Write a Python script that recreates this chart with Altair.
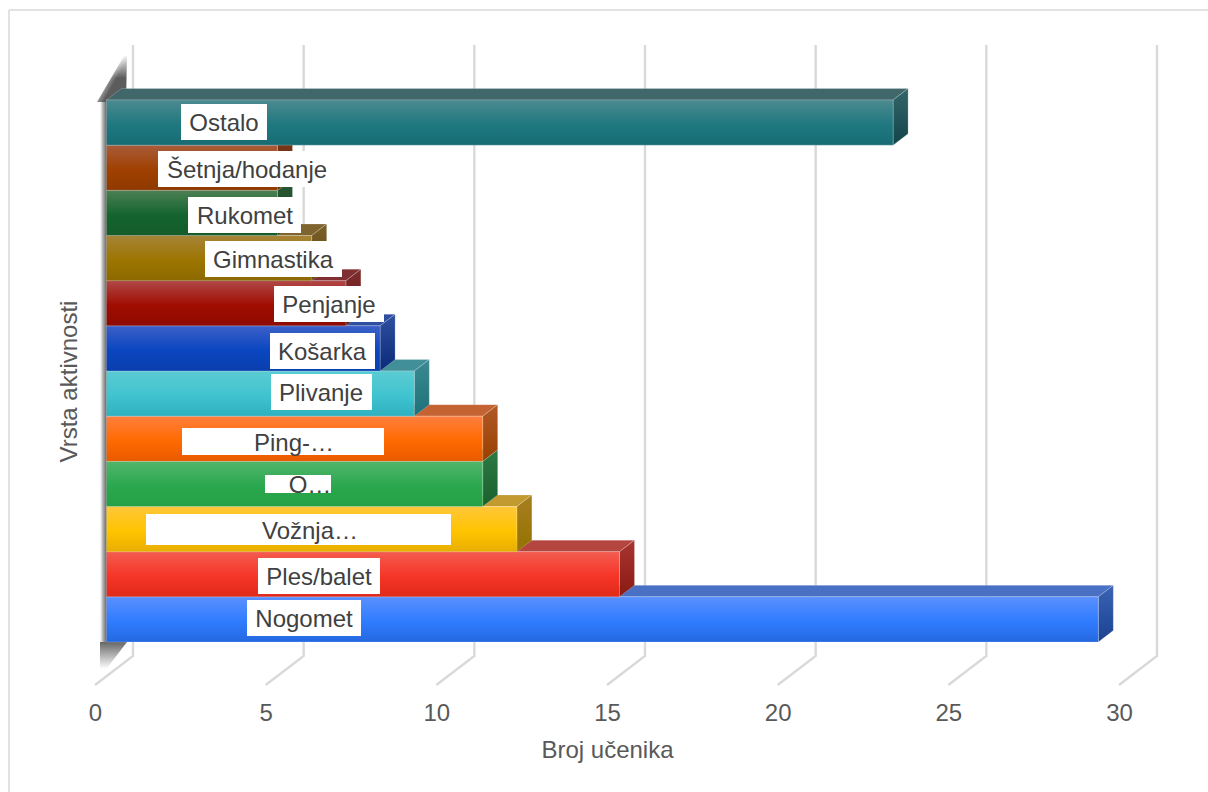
import altair as alt
import pandas as pd

# Horizontal 3-D style bar chart: number of pupils per activity type.
CATEGORIES = ["Nogomet", "Ples/balet", "Vožnja…", "O…", "Ping-…", "Plivanje",
              "Košarka", "Penjanje", "Gimnastika", "Rukomet", "Šetnja/hodanje", "Ostalo"]
VALUES = [29, 15, 12, 11, 11, 9, 8, 7, 6, 5, 5, 23]
TICKS = [0, 5, 10, 15, 20, 25, 30]

# Per-bar face colours: front (top, middle, bottom), top face, side (top, bottom).
FRONT = [("#5a90ff", "#2f7cff", "#2468e0"), ("#f45c50", "#f53527", "#e02a1a"),
         ("#ffc73a", "#ffc400", "#e8ae00"), ("#52b56b", "#2aa84f", "#25a045"),
         ("#ff7f3e", "#ff6a00", "#e85a00"), ("#5ccbd2", "#40c4d0", "#2fb0c0"),
         ("#3c60c8", "#0a46c0", "#0a3fae"), ("#b04848", "#a00c00", "#8e0a00"),
         ("#a68438", "#9d7500", "#8c6900"), ("#4c8054", "#14642e", "#145c2a"),
         ("#a85c3a", "#a04000", "#8e3a00"), ("#4d8a90", "#1f7880", "#186c74")]
TOP = ["#4a70c4", "#b5453f", "#c39a30", "#2f7a40", "#c46232", "#418f99",
       "#2f4ea0", "#7f2f32", "#7f6430", "#2a5a35", "#7a3a1c", "#40676a"]
SIDE = [("#3a63b5", "#1a4290"), ("#a83530", "#8a1a14"), ("#a77f20", "#957200"),
        ("#2e7a42", "#196030"), ("#b05a28", "#984000"), ("#3a8a90", "#20707a"),
        ("#2f4fa0", "#0a2a78"), ("#7d2d2d", "#6a1510"), ("#7a5f28", "#5e4810"),
        ("#2a5a35", "#1a4020"), ("#7a3a1c", "#632a08"), ("#33666a", "#14444a")]

# Label plates in chart pixels: left, right, top, bottom, text centre x.
LABEL_PLATES = [(247, 361, 600, 636, 304), (258, 380, 558, 594, 319),
                (146, 451, 514, 545, 310), (265, 331, 475, 493, 310),
                (182, 384, 428, 455, 294), (271, 372, 374, 410, 321),
                (270, 375, 333, 369, 322), (274, 384, 286, 322, 329),
                (205, 342, 241, 277, 273), (188, 301, 197, 233, 245),
                (158, 336, 151, 187, 247), (181, 267, 104, 140, 224)]

# Page geometry of the plot box and the projection used for the depth effect.
LEFT, TOP_EDGE, PLOT_W, PLOT_H = 95, 45, 1024, 640
PX_PER_UNIT = PLOT_W / 30
PX_PER_ROW = 45.17
ROW0_PX = 642
FLOOR_DX, FLOOR_DY = 38 / PX_PER_UNIT, 29 / PX_PER_ROW
BAR_INSET = 11.5 / PX_PER_UNIT
BAR_STRETCH = 34.2 / PX_PER_UNIT
DEPTH_X, DEPTH_Y = 15 / PX_PER_UNIT, 11.5 / PX_PER_ROW
FONT = "Liberation Sans"
TEXT_SIZE = 24


def to_x(px):
    return (px - LEFT) / PX_PER_UNIT


def to_y(py):
    return (ROW0_PX - py) / PX_PER_ROW


x_scale = alt.Scale(domain=[0, 30], nice=False, zero=False)
y_scale = alt.Scale(domain=[to_y(TOP_EDGE + PLOT_H), to_y(TOP_EDGE)], nice=False, zero=False)
x_axis = alt.Axis(
    values=TICKS, title="Broj učenika", domain=False, ticks=False, grid=False, labelFlush=False,
    labelFont=FONT, labelFontSize=TEXT_SIZE, labelColor="#595959", labelPadding=16,
    titleFont=FONT, titleFontSize=TEXT_SIZE, titleFontWeight="normal", titleColor="#595959",
    titlePadding=13, format="d")
y_axis = alt.Axis(
    labels=False, domain=False, ticks=False, grid=False, title="Vrsta aktivnosti",
    titleFont=FONT, titleFontSize=TEXT_SIZE, titleFontWeight="normal", titleColor="#595959",
    titleX=-14, titleY=336)
X = alt.X("x:Q", scale=x_scale, axis=x_axis)
Y = alt.Y("y:Q", scale=y_scale, axis=y_axis, stack=None)


def grad(colors, offsets=None, x1=0, x2=0, y1=0, y2=1):
    offsets = offsets or [i / (len(colors) - 1) for i in range(len(colors))]
    return alt.LinearGradient(gradient="linear", x1=x1, x2=x2, y1=y1, y2=y2,
                              stops=[alt.GradientStop(color=c, offset=o) for c, o in zip(colors, offsets)])


# Gridlines run along the floor and up the back wall.
grid_rows = []
for t in TICKS:
    grid_rows += [
        {"x": t, "y": to_y(TOP_EDGE + PLOT_H), "t": t, "o": 0},
        {"x": t + FLOOR_DX, "y": to_y(TOP_EDGE + PLOT_H) + FLOOR_DY, "t": t, "o": 1},
        {"x": t + FLOOR_DX, "y": to_y(TOP_EDGE), "t": t, "o": 2},
    ]
grid = alt.Chart(pd.DataFrame(grid_rows)).mark_line(color="#d9d9d9", strokeWidth=2.4).encode(
    x=X, y=Y, detail="t:N", order="o:Q")

# Chart frame: only its top and left edges fall inside the page.
frame = [
    alt.Chart(pd.DataFrame({"a": [0]})).mark_rule(color="#d9d9d9", strokeWidth=1.5).encode(
        x=alt.value(9 - LEFT), x2=alt.value(1208), y=alt.value(10 - TOP_EDGE)),
    alt.Chart(pd.DataFrame({"a": [0]})).mark_rule(color="#d9d9d9", strokeWidth=1.5).encode(
        x=alt.value(9 - LEFT), y=alt.value(10 - TOP_EDGE), y2=alt.value(792)),
]

# Thin shaded side wall behind the bars, fading out above and below them.
wall_top, wall_bottom = to_y(100), to_y(642)
wall_front = alt.Chart(pd.DataFrame({"x": [to_x(100)], "x2": [to_x(107)], "y": [wall_top], "y2": [wall_bottom]})).mark_rect(
    fill=grad(["#ffffff", "#a5a5a5", "#5e5e5e"], [0, 0.5, 1], x2=1, y2=0)
).encode(x=X, x2="x2:Q", y=Y, y2="y2:Q")

wall_up = alt.Chart(pd.DataFrame({
    "y": [to_y(102), to_y(56)], "x": [to_x(97), to_x(124)], "x2": [to_x(126), to_x(127)]
})).mark_area(orient="horizontal", fill=grad(["#ffffff", "#5c5c5c"], [0, 1], x1=0.25, y1=0.25, x2=0.6, y2=0.55)).encode(
    y=Y, x=X, x2="x2:Q")

wall_up_fade = alt.Chart(pd.DataFrame({
    "y": [to_y(78), to_y(54)], "x": [to_x(100), to_x(100)], "x2": [to_x(129), to_x(129)]
})).mark_area(orient="horizontal", fill=grad(["#ffffff", "rgba(255,255,255,0)"], [0, 1], y1=0, y2=1)).encode(
    y=Y, x=X, x2="x2:Q")

wall_down = alt.Chart(pd.DataFrame({
    "y": [to_y(642), to_y(672)], "x": [to_x(100), to_x(100)], "x2": [to_x(127), to_x(104)]
})).mark_area(orient="horizontal", fill=grad(["#666666", "#bcbcbc", "#ffffff"], [0, 0.5, 0.9])).encode(
    y=Y, x=X, x2="x2:Q")

# Each bar is three faces, drawn bottom row first so upper bars cover the tops beneath them.
EDGE = dict(stroke="#ffffff", strokeOpacity=0.25, strokeWidth=0.8)
bars = []
for row, value in enumerate(VALUES):
    x0, x1 = BAR_INSET, BAR_INSET + value * BAR_STRETCH
    y0, y1 = row, row + 1
    top = alt.Chart(pd.DataFrame({
        "y": [y1, y1 + DEPTH_Y], "x": [x0, x0 + DEPTH_X], "x2": [x1, x1 + DEPTH_X]
    })).mark_area(orient="horizontal", fill=TOP[row], **EDGE).encode(y=Y, x=X, x2="x2:Q")
    side = alt.Chart(pd.DataFrame({
        "x": [x1, x1 + DEPTH_X], "y": [y1, y1 + DEPTH_Y], "y2": [y0, y0 + DEPTH_Y]
    })).mark_area(orient="vertical", fill=grad(list(SIDE[row])), **EDGE).encode(x=X, y=Y, y2="y2:Q")
    front = alt.Chart(pd.DataFrame({"x": [x0], "x2": [x1], "y": [y1], "y2": [y0]})).mark_rect(
        fill=grad(list(FRONT[row]), [0, 0.55, 1]), **EDGE
    ).encode(x=X, x2="x2:Q", y=Y, y2="y2:Q")
    bars += [top, side, front]

# White plates with the category names.
label_df = pd.DataFrame({
    "name": CATEGORIES,
    "x": [to_x(p[0]) for p in LABEL_PLATES],
    "x2": [to_x(p[1]) for p in LABEL_PLATES],
    "y": [to_y(p[2]) for p in LABEL_PLATES],
    "y2": [to_y(p[3]) for p in LABEL_PLATES],
    "tx": [to_x(p[4]) for p in LABEL_PLATES],
    "ty": [to_y((p[2] + p[3]) / 2) for p in LABEL_PLATES],
})
plates = alt.Chart(label_df).mark_rect(fill="#ffffff").encode(x=X, x2="x2:Q", y=Y, y2="y2:Q")
names = alt.Chart(label_df).mark_text(
    font=FONT, fontSize=TEXT_SIZE, color="#404040", align="center", baseline="middle", dy=2
).encode(x=alt.X("tx:Q", scale=x_scale, axis=x_axis), y=alt.Y("ty:Q", scale=y_scale, axis=y_axis), text="name:N")

chart = alt.layer(
    *frame, grid, wall_front, wall_up, wall_up_fade, wall_down, *bars, plates, names
).properties(
    width=PLOT_W, height=PLOT_H, background="#ffffff",
    padding={"left": LEFT, "top": TOP_EDGE, "right": 1208 - LEFT - PLOT_W, "bottom": 792 - TOP_EDGE - PLOT_H},
    autosize=alt.AutoSizeParams(type="none"),
).configure_view(stroke=None)

chart.save("out.html", embed_options={"renderer": "svg", "actions": False})
